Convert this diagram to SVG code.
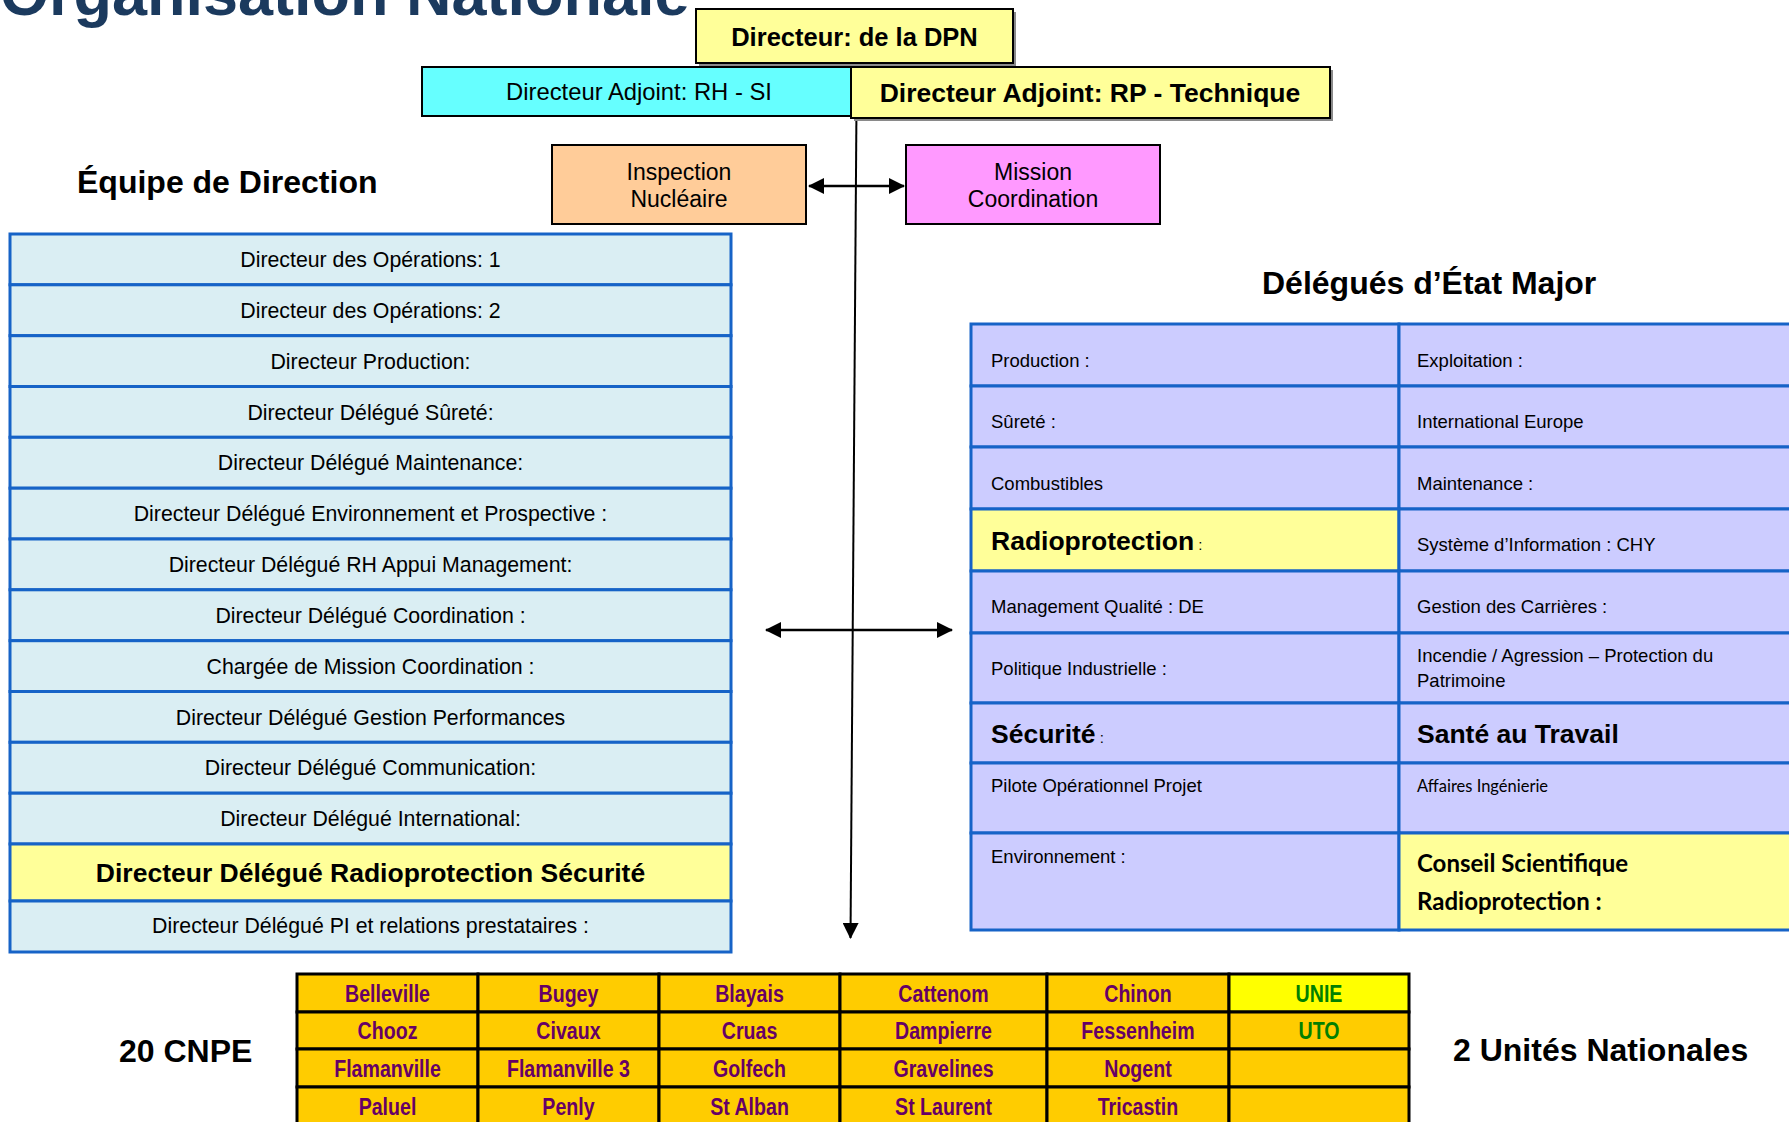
<svg xmlns="http://www.w3.org/2000/svg" width="1789" height="1122" viewBox="0 0 1789 1122">
<style>
text{font-family:"Liberation Sans",Arial,sans-serif;fill:#000}
.b{font-weight:bold}
.box{stroke:#000;stroke-width:2}
.shadow{fill:#8a8a8a}
.lt{fill:#DAEEF3;stroke:#1663C7;stroke-width:3}
.ly{fill:#FFFF99;stroke:#1663C7;stroke-width:3}
.rt{fill:#CCCCFF;stroke:#1663C7;stroke-width:3}
.ry{fill:#FFFF99;stroke:#1663C7;stroke-width:3}
.lc{font-size:21.3px;text-anchor:middle}
.rc{font-size:18.5px}
.big{font-size:26.5px;font-weight:bold}
.cal{font-family:Lato,"Open Sans",sans-serif}
.cn{fill:#FFCC00;stroke:#000;stroke-width:3}
.cny{fill:#FFFF00;stroke:#000;stroke-width:3}
.ct{font-size:24.5px;font-weight:bold;fill:#660066;text-anchor:middle}
.ug{fill:#008000}
.hd{font-size:32px;font-weight:bold}
.con{stroke:#000;fill:none}
</style>
<defs>
<marker id="ah" markerUnits="userSpaceOnUse" markerWidth="16" markerHeight="16" viewBox="0 0 16 16" refX="15" refY="8" orient="auto-start-reverse">
<path d="M0,0 L16,8 L0,16 z" fill="#000"/>
</marker>
</defs>

<text id="title" x="0" y="15" font-size="63" font-weight="bold" style="fill:#1B3A5E">Organisation Nationale</text>

<g id="connectors">
<line class="con" x1="856.4" y1="118" x2="850.5" y2="938" stroke-width="2" marker-end="url(#ah)"/>
<line class="con" x1="809" y1="186" x2="904" y2="186" stroke-width="2.5" marker-start="url(#ah)" marker-end="url(#ah)"/>
<line class="con" x1="766" y1="630" x2="952" y2="630" stroke-width="2.5" marker-start="url(#ah)" marker-end="url(#ah)"/>
</g>

<g id="dpn">
<rect class="shadow" x="699" y="12" width="317" height="54"/>
<rect class="box" x="696" y="9" width="317" height="54" fill="#FFFF99"/>
<text class="b" x="854.5" y="46" font-size="25.5" text-anchor="middle">Directeur: de la DPN</text>
</g>
<g id="adj-rh">
<rect class="box" x="422" y="67" width="434" height="49" fill="#66FFFF"/>
<text x="639" y="100" font-size="23.8" text-anchor="middle">Directeur Adjoint: RH - SI</text>
</g>
<g id="adj-rp">
<rect class="shadow" x="854" y="70" width="479" height="51"/>
<rect class="box" x="851" y="67" width="479" height="51" fill="#FFFF99"/>
<text class="b" x="1090" y="102" font-size="26.5" text-anchor="middle">Directeur Adjoint: RP - Technique</text>
</g>
<g id="inspection">
<rect class="box" x="552" y="145" width="254" height="79" fill="#FFCC99"/>
<text x="679" y="180" font-size="23" text-anchor="middle">Inspection</text>
<text x="679" y="207" font-size="23" text-anchor="middle">Nucléaire</text>
</g>
<g id="mission">
<rect class="box" x="906" y="145" width="254" height="79" fill="#FF99FF"/>
<text x="1033" y="180" font-size="23" text-anchor="middle">Mission</text>
<text x="1033" y="207" font-size="23" text-anchor="middle">Coordination</text>
</g>

<text id="equipe-title" class="hd" x="77" y="193">Équipe de Direction</text>

<g id="equipe">
<g id="eq-1"><rect class="lt" x="10" y="234" width="721" height="50.8"/><text class="lc" x="370.5" y="267">Directeur des Opérations: 1</text></g>
<g id="eq-2"><rect class="lt" x="10" y="284.8" width="721" height="50.9"/><text class="lc" x="370.5" y="317.8">Directeur des Opérations: 2</text></g>
<g id="eq-3"><rect class="lt" x="10" y="335.7" width="721" height="50.8"/><text class="lc" x="370.5" y="368.7">Directeur Production:</text></g>
<g id="eq-4"><rect class="lt" x="10" y="386.5" width="721" height="50.8"/><text class="lc" x="370.5" y="419.5">Directeur Délégué Sûreté:</text></g>
<g id="eq-5"><rect class="lt" x="10" y="437.3" width="721" height="50.9"/><text class="lc" x="370.5" y="470.3">Directeur Délégué Maintenance:</text></g>
<g id="eq-6"><rect class="lt" x="10" y="488.2" width="721" height="50.8"/><text class="lc" x="370.5" y="521.2">Directeur Délégué Environnement et Prospective :</text></g>
<g id="eq-7"><rect class="lt" x="10" y="539" width="721" height="50.8"/><text class="lc" x="370.5" y="572">Directeur Délégué RH Appui Management:</text></g>
<g id="eq-8"><rect class="lt" x="10" y="589.8" width="721" height="50.9"/><text class="lc" x="370.5" y="622.8">Directeur Délégué Coordination :</text></g>
<g id="eq-9"><rect class="lt" x="10" y="640.7" width="721" height="50.8"/><text class="lc" x="370.5" y="673.7">Chargée de Mission Coordination :</text></g>
<g id="eq-10"><rect class="lt" x="10" y="691.5" width="721" height="50.8"/><text class="lc" x="370.5" y="724.5">Directeur Délégué Gestion Performances</text></g>
<g id="eq-11"><rect class="lt" x="10" y="742.3" width="721" height="50.9"/><text class="lc" x="370.5" y="775.3">Directeur Délégué Communication:</text></g>
<g id="eq-12"><rect class="lt" x="10" y="793.2" width="721" height="50.8"/><text class="lc" x="370.5" y="826.2">Directeur Délégué International:</text></g>
<g id="eq-13"><rect class="ly" x="10" y="844" width="721" height="57"/><text class="big" x="370.5" y="882" text-anchor="middle">Directeur Délégué Radioprotection Sécurité</text></g>
<g id="eq-14"><rect class="lt" x="10" y="901" width="721" height="51"/><text class="lc" x="370.5" y="933">Directeur Délégué PI et relations prestataires :</text></g>
</g>

<text id="delegues-title" class="hd" x="1262" y="294" font-size="31.5">Délégués d’État Major</text>

<g id="delegues">
<g id="d-production"><rect class="rt" x="971" y="324" width="428" height="62"/><text class="rc" x="991" y="367">Production :</text></g>
<g id="d-exploitation"><rect class="rt" x="1399" y="324" width="400" height="62"/><text class="rc" x="1417" y="367">Exploitation :</text></g>
<g id="d-surete"><rect class="rt" x="971" y="386" width="428" height="61"/><text class="rc" x="991" y="428">Sûreté :</text></g>
<g id="d-international"><rect class="rt" x="1399" y="386" width="400" height="61"/><text class="rc" x="1417" y="428">International Europe</text></g>
<g id="d-combustibles"><rect class="rt" x="971" y="447" width="428" height="62"/><text class="rc" x="991" y="490">Combustibles</text></g>
<g id="d-maintenance"><rect class="rt" x="1399" y="447" width="400" height="62"/><text class="rc" x="1417" y="490">Maintenance :</text></g>
<g id="d-radioprotection"><rect class="ry" x="971" y="509" width="428" height="62"/><text x="991" y="550"><tspan class="big">Radioprotection</tspan><tspan font-size="15"> :</tspan></text></g>
<g id="d-si"><rect class="rt" x="1399" y="509" width="400" height="62"/><text class="rc" x="1417" y="551">Système d’Information : CHY</text></g>
<g id="d-qualite"><rect class="rt" x="971" y="571" width="428" height="62"/><text class="rc" x="991" y="613">Management Qualité : DE</text></g>
<g id="d-carrieres"><rect class="rt" x="1399" y="571" width="400" height="62"/><text class="rc" x="1417" y="613">Gestion des Carrières :</text></g>
<g id="d-politique"><rect class="rt" x="971" y="633" width="428" height="70"/><text class="rc" x="991" y="675">Politique Industrielle :</text></g>
<g id="d-incendie"><rect class="rt" x="1399" y="633" width="400" height="70"/><text class="rc" x="1417" y="662">Incendie / Agression – Protection du</text><text class="rc" x="1417" y="687">Patrimoine</text></g>
<g id="d-securite"><rect class="rt" x="971" y="703" width="428" height="60"/><text x="991" y="743"><tspan class="big">Sécurité</tspan><tspan font-size="15"> :</tspan></text></g>
<g id="d-sante"><rect class="rt" x="1399" y="703" width="400" height="60"/><text class="big" x="1417" y="743">Santé au Travail</text></g>
<g id="d-pilote"><rect class="rt" x="971" y="763" width="428" height="70"/><text class="rc" x="991" y="792">Pilote Opérationnel Projet</text></g>
<g id="d-affaires"><rect class="rt" x="1399" y="763" width="400" height="70"/><text class="cal" x="1417" y="792" font-size="16.5">Affaires Ingénierie</text></g>
<g id="d-environnement"><rect class="rt" x="971" y="833" width="428" height="97"/><text class="rc" x="991" y="863">Environnement :</text></g>
<g id="d-conseil"><rect class="ry" x="1399" y="833" width="400" height="97"/><text class="cal b" x="1417" y="872" font-size="24">Conseil Scientifique</text><text class="cal b" x="1417" y="910" font-size="24">Radioprotection :</text></g>
</g>

<text id="cnpe-title" class="hd" x="119" y="1062">20 CNPE</text>
<text id="un-title" class="hd" x="1453" y="1061">2 Unités Nationales</text>

<g id="cnpe">
<g id="c-r1">
<rect class="cn" x="297" y="974" width="181" height="38"/><rect class="cn" x="478" y="974" width="181" height="38"/><rect class="cn" x="659" y="974" width="181" height="38"/><rect class="cn" x="840" y="974" width="207" height="38"/><rect class="cn" x="1047" y="974" width="182" height="38"/><rect class="cny" x="1229" y="974" width="180" height="38"/>
<g transform="scale(0.8 1)">
<text class="ct" x="484.4" y="1002">Belleville</text><text class="ct" x="710.6" y="1002">Bugey</text><text class="ct" x="936.9" y="1002">Blayais</text><text class="ct" x="1179.4" y="1002">Cattenom</text><text class="ct" x="1422.5" y="1002">Chinon</text><text class="ct ug" x="1648.8" y="1002">UNIE</text>
</g>
</g>
<g id="c-r2">
<rect class="cn" x="297" y="1012" width="181" height="37"/><rect class="cn" x="478" y="1012" width="181" height="37"/><rect class="cn" x="659" y="1012" width="181" height="37"/><rect class="cn" x="840" y="1012" width="207" height="37"/><rect class="cn" x="1047" y="1012" width="182" height="37"/><rect class="cn" x="1229" y="1012" width="180" height="37"/>
<g transform="scale(0.8 1)">
<text class="ct" x="484.4" y="1039.5">Chooz</text><text class="ct" x="710.6" y="1039.5">Civaux</text><text class="ct" x="936.9" y="1039.5">Cruas</text><text class="ct" x="1179.4" y="1039.5">Dampierre</text><text class="ct" x="1422.5" y="1039.5">Fessenheim</text><text class="ct ug" x="1648.8" y="1039.5">UTO</text>
</g>
</g>
<g id="c-r3">
<rect class="cn" x="297" y="1049" width="181" height="38"/><rect class="cn" x="478" y="1049" width="181" height="38"/><rect class="cn" x="659" y="1049" width="181" height="38"/><rect class="cn" x="840" y="1049" width="207" height="38"/><rect class="cn" x="1047" y="1049" width="182" height="38"/><rect class="cn" x="1229" y="1049" width="180" height="38"/>
<g transform="scale(0.8 1)">
<text class="ct" x="484.4" y="1077">Flamanville</text><text class="ct" x="710.6" y="1077">Flamanville 3</text><text class="ct" x="936.9" y="1077">Golfech</text><text class="ct" x="1179.4" y="1077">Gravelines</text><text class="ct" x="1422.5" y="1077">Nogent</text>
</g>
</g>
<g id="c-r4">
<rect class="cn" x="297" y="1087" width="181" height="40"/><rect class="cn" x="478" y="1087" width="181" height="40"/><rect class="cn" x="659" y="1087" width="181" height="40"/><rect class="cn" x="840" y="1087" width="207" height="40"/><rect class="cn" x="1047" y="1087" width="182" height="40"/><rect class="cn" x="1229" y="1087" width="180" height="40"/>
<g transform="scale(0.8 1)">
<text class="ct" x="484.4" y="1115">Paluel</text><text class="ct" x="710.6" y="1115">Penly</text><text class="ct" x="936.9" y="1115">St Alban</text><text class="ct" x="1179.4" y="1115">St Laurent</text><text class="ct" x="1422.5" y="1115">Tricastin</text>
</g>
</g>
</g>
</svg>
